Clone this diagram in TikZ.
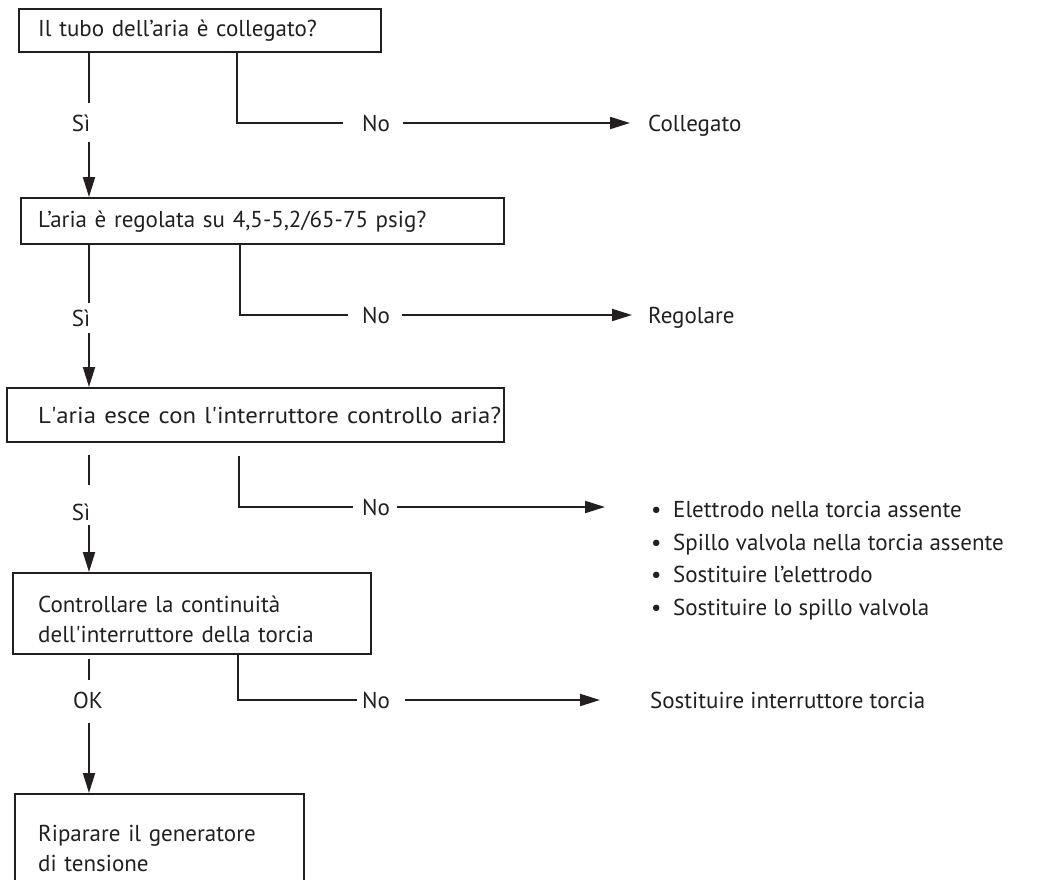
\documentclass[tikz,border=0pt]{standalone}
\usepackage{graphicx}
\usepackage{fontspec}
\setmainfont{PT Sans}
\usetikzlibrary{arrows.meta,calc}
\definecolor{ink}{HTML}{231F20}
\begin{document}
\begin{tikzpicture}[x=1pt,y=-1pt,
  every node/.style={font=\fontsize{23}{30}\selectfont, text=ink},
  box/.style={draw=ink, line width=2.4pt, anchor=north west, align=left, inner ysep=0pt},
  conn/.style={draw=ink, line width=2pt},
  arr/.style={conn, -{Triangle[length=20pt,width=12pt]}},
  lbl/.style={inner sep=0pt, text height=16.5pt, text depth=0pt},
  target/.style={lbl, anchor=west}]
\useasboundingbox (0,0) rectangle (1039,879);

% question and action boxes
\node[box, text width=324pt, minimum height=43pt, inner xsep=19pt] (b1) at (18,8)
  {\mbox{Il tubo dell’aria è collegato?}};
\node[box, text width=449pt, minimum height=46pt, inner xsep=17pt] (b2) at (20,197)
  {\mbox{L’aria è regolata su 4,5-5,2/65-75 psig?}};
\node[box, text width=435pt, minimum height=54pt, inner xsep=31pt] (b3) at (6,387)
  {\resizebox{463pt}{\height}{L\textquotesingle aria esce con l\textquotesingle interruttore controllo aria?}};
\node[box, text width=308pt, minimum height=81pt, inner xsep=25pt] (b4) at (12,572)
  {\rule{0pt}{28pt}\mbox{Controllare la continuità}\\\mbox{dell\textquotesingle interruttore della torcia}};
\node[box, text width=243pt, minimum height=108pt, inner xsep=23pt] (b5) at (14,793)
  {\mbox{Riparare il generatore}\\\mbox{di tensione}};

% yes / ok labels on the main column
\node[lbl] (s1) at (81,123) {Sì};
\node[lbl] (s2) at (81,318) {Sì};
\node[lbl] (s3) at (81,512) {Sì};
\node[lbl] (ok) at (88,700) {OK};

% no labels on the side branches
\node[lbl] (n1) at (376,123) {No};
\node[lbl] (n2) at (376,315) {No};
\node[lbl] (n3) at (376,507) {No};
\node[lbl] (n4) at (376,700) {No};

% remedies
\node[target] (t1) at (648,123) {Collegato};
\node[target] (t2) at (648,315) {Regolare};
\node[anchor=north west, inner sep=0pt, align=left, font=\fontsize{23}{32.6}\selectfont] (t3) at (651,501)
  {\makebox[22pt][l]{\textbullet}Elettrodo nella torcia assente\\
   \makebox[22pt][l]{\textbullet}Spillo valvola nella torcia assente\\
   \makebox[22pt][l]{\textbullet}Sostituire l’elettrodo\\
   \makebox[22pt][l]{\textbullet}Sostituire lo spillo valvola};
\node[target] (t4) at (650,700) {Sostituire interruttore torcia};

% main column joints
\coordinate (a1) at (89,103);  \coordinate (c1) at (89,142);
\coordinate (a2) at (89,303);  \coordinate (c2) at (89,333);
\coordinate (a3) at (89,485);  \coordinate (c3) at (89,525);
\coordinate (a4) at (89,680);  \coordinate (c4) at (89,723);

\draw[conn] (b1.south -| a1) -- (a1);
\draw[arr]  (c1) -- (b2.north -| c1);
\draw[conn] (b2.south -| a2) -- (a2);
\draw[arr]  (c2) -- (b3.north -| c2);
\draw[conn] ($(b3.south -| a3)+(0,12)$) -- (a3);
\draw[arr]  (c3) -- (b4.north -| c3);
\draw[conn] ($(b4.south -| a4)+(0,4)$) -- (a4);
\draw[arr]  (c4) -- (b5.north -| c4);

% side branch corners and label gaps
\coordinate (k1) at (237,123); \coordinate (e1) at (343,123); \coordinate (f1) at (403,123);
\coordinate (k2) at (240,315); \coordinate (e2) at (348,315); \coordinate (f2) at (402,315);
\coordinate (k3) at (239,507); \coordinate (e3) at (353,507); \coordinate (f3) at (397,507);
\coordinate (k4) at (238,700); \coordinate (e4) at (357,700); \coordinate (f4) at (405,700);

\draw[conn] (b1.south -| k1) -- (k1) -- (e1);
\draw[arr, shorten >=18pt] (f1) -- (t1.west);
\draw[conn] (b2.south -| k2) -- (k2) -- (e2);
\draw[arr, shorten >=16pt] (f2) -- (t2.west);
\draw[conn] ($(b3.south -| k3)+(0,13)$) -- (k3) -- (e3);
\draw[arr, shorten >=46pt] (f3) -- (t3.west |- f3);
\draw[conn] (b4.south -| k4) -- (k4) -- (e4);
\draw[arr, shorten >=50pt] (f4) -- (t4.west);
\end{tikzpicture}
\end{document}
